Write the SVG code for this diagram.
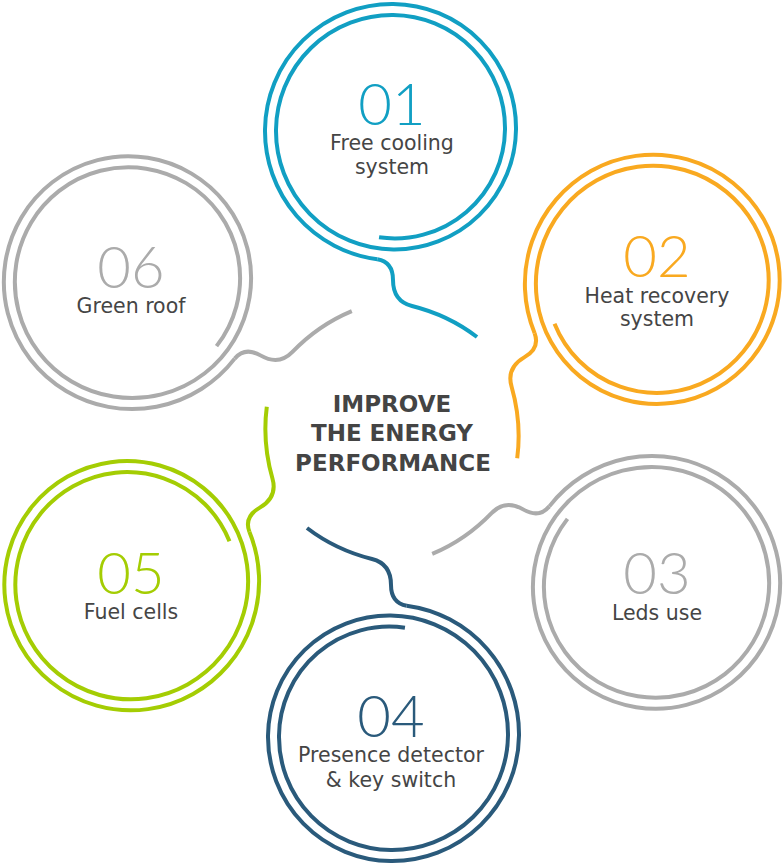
<svg xmlns="http://www.w3.org/2000/svg" width="784" height="864" viewBox="0 0 784 864">
<style>
 .ln{fill:none;stroke-width:4;stroke-linecap:butt}
 .num{font-family:Lato,'Open Sans',sans-serif;font-weight:300;font-size:58px;text-anchor:middle}
 .lbl{font-family:'DejaVu Sans',sans-serif;font-size:20.5px;fill:#454545;text-anchor:middle}
 .ttl{font-family:'DejaVu Sans',sans-serif;font-weight:bold;font-size:23px;fill:#444444;text-anchor:middle}
</style>
<defs>
 <path id="ring" d="M377.31,259.32 A129.5,129.5 0 0 1 265,129.5 A126.9,126.9 0 0 1 393.25,4 A124.1,124.1 0 0 1 516,129.5 A121.4,121.4 0 0 1 393.25,249.5 A118.6,118.6 0 0 1 276,129.5 A115.9,115.9 0 0 1 393.25,15 A113.1,113.1 0 0 1 505,129.5 A110.3,110.3 0 0 1 379.05,237.34"/>
 <path id="tail" d="M377.31,259.32 C387,261 393,267 393,280 C393,295 400,303 412,306 C440,313 460,324 477,337"/>
</defs>
<rect width="784" height="864" fill="#ffffff"/>
<g id="connectors">
 <use href="#tail" class="ln" stroke="#119fc3"/>
 <use href="#tail" class="ln" stroke="#f9a920" transform="rotate(60 392 432.5)"/>
 <use href="#tail" class="ln" stroke="#ababab" transform="rotate(120 392 432.5)"/>
 <use href="#tail" class="ln" stroke="#2a5a7b" transform="rotate(180 392 432.5)"/>
 <use href="#tail" class="ln" stroke="#a4cd03" transform="rotate(240 392 432.5)"/>
 <use href="#tail" class="ln" stroke="#ababab" transform="rotate(300 392 432.5)"/>
</g>
<g id="node-01">
 <use href="#ring" class="ln" stroke="#119fc3"/>
 <text class="num" x="392" y="125" fill="#119fc3">01</text>
 <text class="lbl" x="392" y="150">Free cooling</text>
 <text class="lbl" x="392" y="174">system</text>
</g>
<g id="node-02">
 <use href="#ring" class="ln" stroke="#f9a920" transform="rotate(60 392 432.5)"/>
 <text class="num" x="657" y="277" fill="#f9a920">02</text>
 <text class="lbl" x="657" y="303">Heat recovery</text>
 <text class="lbl" x="657" y="326">system</text>
</g>
<g id="node-03">
 <use href="#ring" class="ln" stroke="#ababab" transform="rotate(120 392 432.5)"/>
 <text class="num" x="657" y="594" fill="#ababab">03</text>
 <text class="lbl" x="657" y="620">Leds use</text>
</g>
<g id="node-04">
 <use href="#ring" class="ln" stroke="#2a5a7b" transform="rotate(180 392 432.5)"/>
 <text class="num" x="391" y="737" fill="#2a5a7b">04</text>
 <text class="lbl" x="391" y="762">Presence detector</text>
 <text class="lbl" x="391" y="787">&amp; key switch</text>
</g>
<g id="node-05">
 <use href="#ring" class="ln" stroke="#a4cd03" transform="rotate(240 392 432.5)"/>
 <text class="num" x="131" y="594" fill="#a4cd03">05</text>
 <text class="lbl" x="131" y="619">Fuel cells</text>
</g>
<g id="node-06">
 <use href="#ring" class="ln" stroke="#ababab" transform="rotate(300 392 432.5)"/>
 <text class="num" x="131" y="288" fill="#ababab">06</text>
 <text class="lbl" x="131" y="313">Green roof</text>
</g>
<g id="title">
 <text class="ttl" x="392" y="412">IMPROVE</text>
 <text class="ttl" x="392" y="441">THE ENERGY</text>
 <text class="ttl" x="393" y="471">PERFORMANCE</text>
</g>
</svg>
